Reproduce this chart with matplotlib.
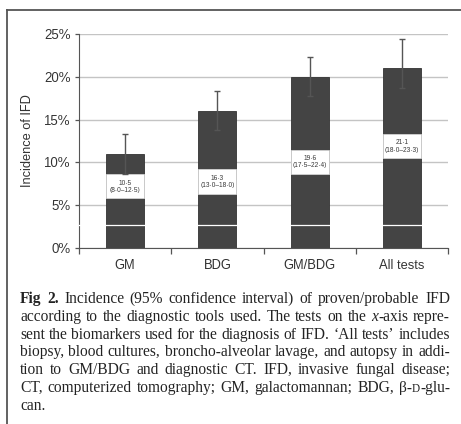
import re
import matplotlib
matplotlib.use("Agg")
import matplotlib.pyplot as plt
from matplotlib.lines import Line2D

plt.rcParams["text.hinting"] = "native"

# chart values (percent)
tests = ["GM", "BDG", "GM/BDG", "All tests"]
incidence = [11.0, 16.0, 20.0, 21.0]
err_low = [8.7, 13.8, 17.8, 18.7]
err_high = [13.3, 18.3, 22.3, 24.4]
box_low = [5.8, 6.3, 8.7, 10.5]
box_high = [8.6, 9.2, 11.5, 13.3]
box_text = ["10·5\n(8·0–12·5)", "16·3\n(13·0–18·0)", "19·6\n(17·5–22·4)", "21·1\n(18·0–23·3)"]
yticks = [0, 5, 10, 15, 20, 25]

# caption lines: *...* bold, |...| italic, ~...~ small caps
caption = [
    "*Fig* *2.* Incidence (95% confidence interval) of proven/probable IFD",
    "according to the diagnostic tools used. The tests on the |x|-axis repre-",
    "sent the biomarkers used for the diagnosis of IFD. ‘All tests’ includes",
    "biopsy, blood cultures, broncho-alveolar lavage, and autopsy in addi-",
    "tion to GM/BDG and diagnostic CT. IFD, invasive fungal disease;",
    "CT, computerized tomography; GM, galactomannan; BDG, β-~D~-glu-",
    "can.",
]
justify = [True, True, True, True, True, True, False]

W, H = 461, 424
CAP_FS = 11.2
fig = plt.figure(figsize=(W / 100, H / 100), dpi=100)
fig.patch.set_facecolor("white")

# frame around the figure
fig.add_artist(Line2D([7 / W, 7 / W], [0, 1 - 10 / H], color="#555555", lw=1.3, transform=fig.transFigure))
fig.add_artist(Line2D([7 / W, 1], [1 - 10 / H, 1 - 10 / H], color="#555555", lw=1.3, transform=fig.transFigure))

ax = fig.add_axes([79 / W, (H - 248) / H, (448 - 79) / W, (248 - 34) / H])
x = list(range(len(tests)))
ax.set_axisbelow(True)
ax.yaxis.grid(True, color="#c4c4c4", lw=1)
ax.bar(x, incidence, width=0.41, color="#444444", edgecolor="#333333", lw=0.6, zorder=2)
# white label boxes inside the bars
ax.bar(x, [h - l for l, h in zip(box_low, box_high)], bottom=box_low, width=0.41,
       color="white", edgecolor="#dddddd", lw=0.5, zorder=3)
for xi, lo, hi, t in zip(x, box_low, box_high, box_text):
    ax.text(xi, (lo + hi) / 2, t, ha="center", va="center", fontsize=4.8,
            color="#333333", family="Liberation Sans", linespacing=1.3, zorder=4)
yerr = [[v - l for v, l in zip(incidence, err_low)], [h - v for v, h in zip(incidence, err_high)]]
ax.errorbar(x, incidence, yerr=yerr, fmt="none", ecolor="#555555", elinewidth=1,
            capsize=2.5, capthick=1, zorder=5)
ax.axhline(2.7, color="white", lw=0.9, zorder=4)

ax.set_xlim(-0.5, 3.5)
ax.set_ylim(0, 25)
ax.set_yticks(yticks)
ax.set_yticklabels([f"{v}%" for v in yticks])
ax.set_xticks(x)
ax.set_xticklabels(tests)
ax.set_xticks([-0.5, 0.5, 1.5, 2.5, 3.5], minor=True)
ax.tick_params(axis="x", which="major", length=0, pad=8, labelsize=9.3, labelcolor="#333333")
ax.tick_params(axis="x", which="minor", length=4, width=0.9, color="#555555")
ax.tick_params(axis="y", length=3, width=0.9, color="#555555", labelsize=9.5, labelcolor="#333333", pad=3)
for lab in ax.get_xticklabels() + ax.get_yticklabels():
    lab.set_family("Liberation Sans")
ax.spines["top"].set_visible(False)
ax.spines["right"].set_visible(False)
ax.spines["left"].set_color("#555555")
ax.spines["bottom"].set_color("#555555")
ax.set_ylabel("Incidence of IFD", fontsize=9.2, color="#333333", family="Liberation Sans", labelpad=7)

# caption, justified word by word
renderer = fig.canvas.get_renderer()
left, right = 20, 450
y0, step = 303, 17.8


def pieces_of(word):
    out = []
    for tok in re.split(r"(\*[^*]+\*|\|[^|]+\||~[^~]+~)", word):
        if not tok:
            continue
        if tok[0] == "*":
            out.append((tok[1:-1], "bold", "normal", 1.0))
        elif tok[0] == "|":
            out.append((tok[1:-1], "normal", "italic", 1.0))
        elif tok[0] == "~":
            out.append((tok[1:-1], "normal", "normal", 0.72))
        else:
            out.append((tok, "normal", "normal", 1.0))
    return out


def build(words, fs):
    groups = []
    for w in words:
        g = []
        for s, weight, style, scale in pieces_of(w):
            g.append(fig.text(0, 0, s, fontsize=fs * scale, family="Liberation Serif", weight=weight,
                              style=style, color="#222222", va="baseline"))
        groups.append(g)
    widths = [sum(p.get_window_extent(renderer).width for p in g) for g in groups]
    return groups, widths


for i, line in enumerate(caption):
    words = line.split(" ")
    fs = CAP_FS
    while True:
        groups, widths = build(words, fs)
        gap = (right - left - sum(widths)) / (len(groups) - 1) if len(groups) > 1 else 0
        if not justify[i] or gap >= 2.6 or fs < 9:
            break
        for g in groups:
            for p in g:
                p.remove()
        fs -= 0.2
    if not justify[i]:
        gap = 3.5
    xp = left
    yy = (H - round(y0 + i * step)) / H
    for g, wd in zip(groups, widths):
        xx = xp
        for p in g:
            p.set_position((xx / W, yy))
            xx += p.get_window_extent(renderer).width
        xp += wd + gap

fig.savefig("out.png", dpi=100)
